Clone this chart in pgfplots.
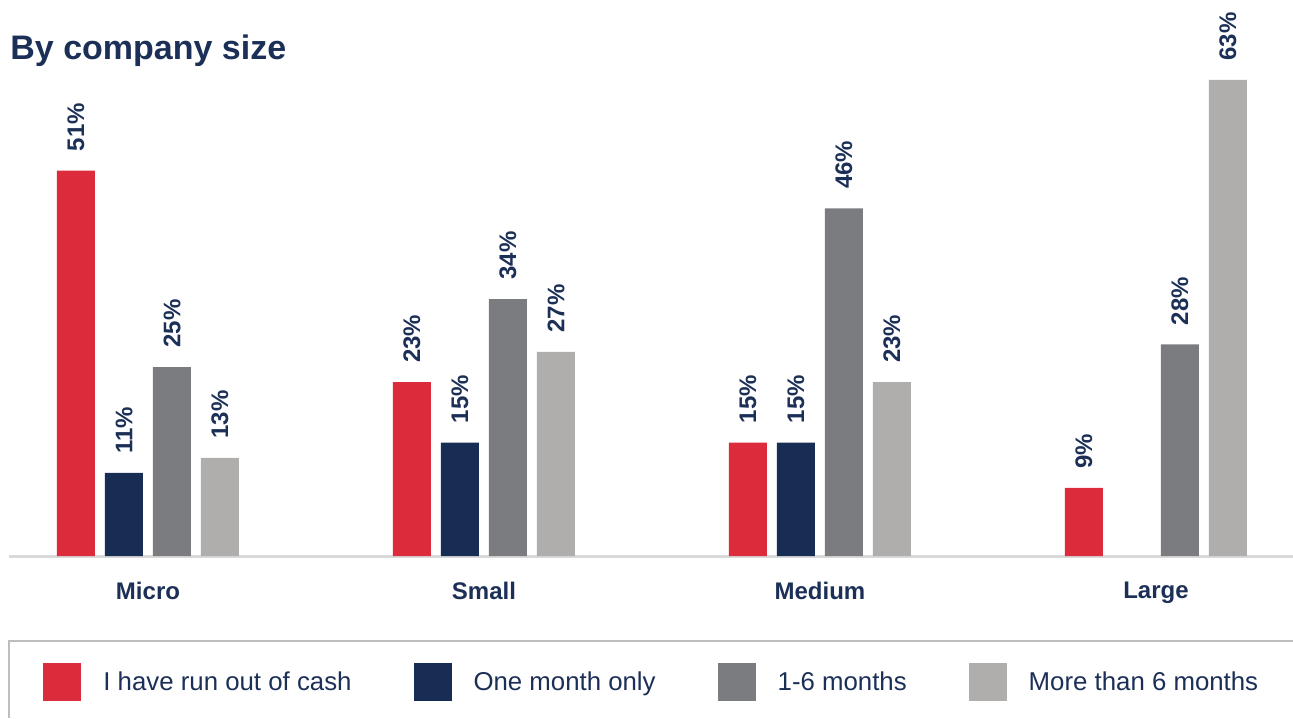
\documentclass[border=0pt]{standalone}
\usepackage{fontspec}
\setmainfont{Liberation Sans}
\usepackage{pgfplots}
\pgfplotsset{compat=1.18}
\definecolor{cashred}{HTML}{DC2C3C}
\definecolor{onenavy}{HTML}{172D53}
\definecolor{midgrey}{HTML}{7B7C80}
\definecolor{lightgrey}{HTML}{B0ADAD}
\definecolor{textnavy}{HTML}{1B2F57}
\definecolor{axisgrey}{HTML}{D9D9D9}
\definecolor{framegrey}{HTML}{BDBDBD}

\begin{document}
\begin{tikzpicture}
\useasboundingbox (-4.5pt,-81pt) rectangle (642pt,278pt);
\begin{axis}[
  at={(0pt,0pt)}, anchor=south west,
  scale only axis, width=642pt, height=264.5pt,
  xmin=-0.4137, xmax=3.408, ymin=0, ymax=70,
  enlargelimits=false, clip=false,
  ybar=5pt, bar width=19pt,
  axis x line=bottom, axis y line=none,
  axis line style={draw=axisgrey, line width=1.5pt, -},
  xtick={0,1,2,3}, xticklabels={Micro,Small,Medium,Large},
  major tick length=0pt, ytick=\empty,
  xticklabel style={font=\bfseries\fontsize{12}{14}\selectfont, text=textnavy, yshift=-9.5pt},
  nodes near coords={\pgfmathprintnumber{\pgfplotspointmeta}\%},
  nodes near coords style={rotate=90, anchor=west, inner xsep=9.5pt, inner ysep=0pt,
    font=\bfseries\fontsize{12}{14}\selectfont, text=textnavy,
    /pgf/number format/.cd, fixed, precision=0, assume math mode=true},
  legend columns=4, legend cell align=left,
  legend style={at={(0,0)}, anchor=north west, yshift=-42.5pt,
    draw=none, fill=none, inner xsep=17pt, inner ysep=11pt,
    font=\fontsize{12.9}{15}\selectfont, text=textnavy,
    nodes={inner sep=0pt},
    /tikz/every odd column/.style={column sep=11pt},
    /tikz/every even column/.style={column sep=31pt}},
]
\addplot[fill=cashred, draw=none,
  legend image code/.code={\fill[cashred] (0pt,-9.5pt) rectangle (19pt,9.5pt);}]
  coordinates {(0,51) (1,23) (2,15) (3,9)};
\addlegendentry{I have run out of cash}
\addplot[fill=onenavy, draw=none,
  legend image code/.code={\fill[onenavy] (0pt,-9.5pt) rectangle (19pt,9.5pt);}]
  coordinates {(0,11) (1,15) (2,15)};
\addlegendentry{One month only}
\addplot[fill=midgrey, draw=none,
  legend image code/.code={\fill[midgrey] (0pt,-9.5pt) rectangle (19pt,9.5pt);}]
  coordinates {(0,25) (1,34) (2,46) (3,28)};
\addlegendentry{1-6 months}
\addplot[fill=lightgrey, draw=none,
  legend image code/.code={\fill[lightgrey] (0pt,-9.5pt) rectangle (19pt,9.5pt);}]
  coordinates {(0,13) (1,27) (2,23) (3,63)};
\addlegendentry{More than 6 months}
\end{axis}
\node[anchor=base west, inner sep=0pt, font=\bfseries\fontsize{17}{20}\selectfont, text=textnavy]
  at (0.5pt,248pt) {By company size};
\draw[framegrey, line width=1pt] (0pt,-81pt) -- (0pt,-42.5pt) -- (642pt,-42.5pt);
\end{tikzpicture}
\end{document}
